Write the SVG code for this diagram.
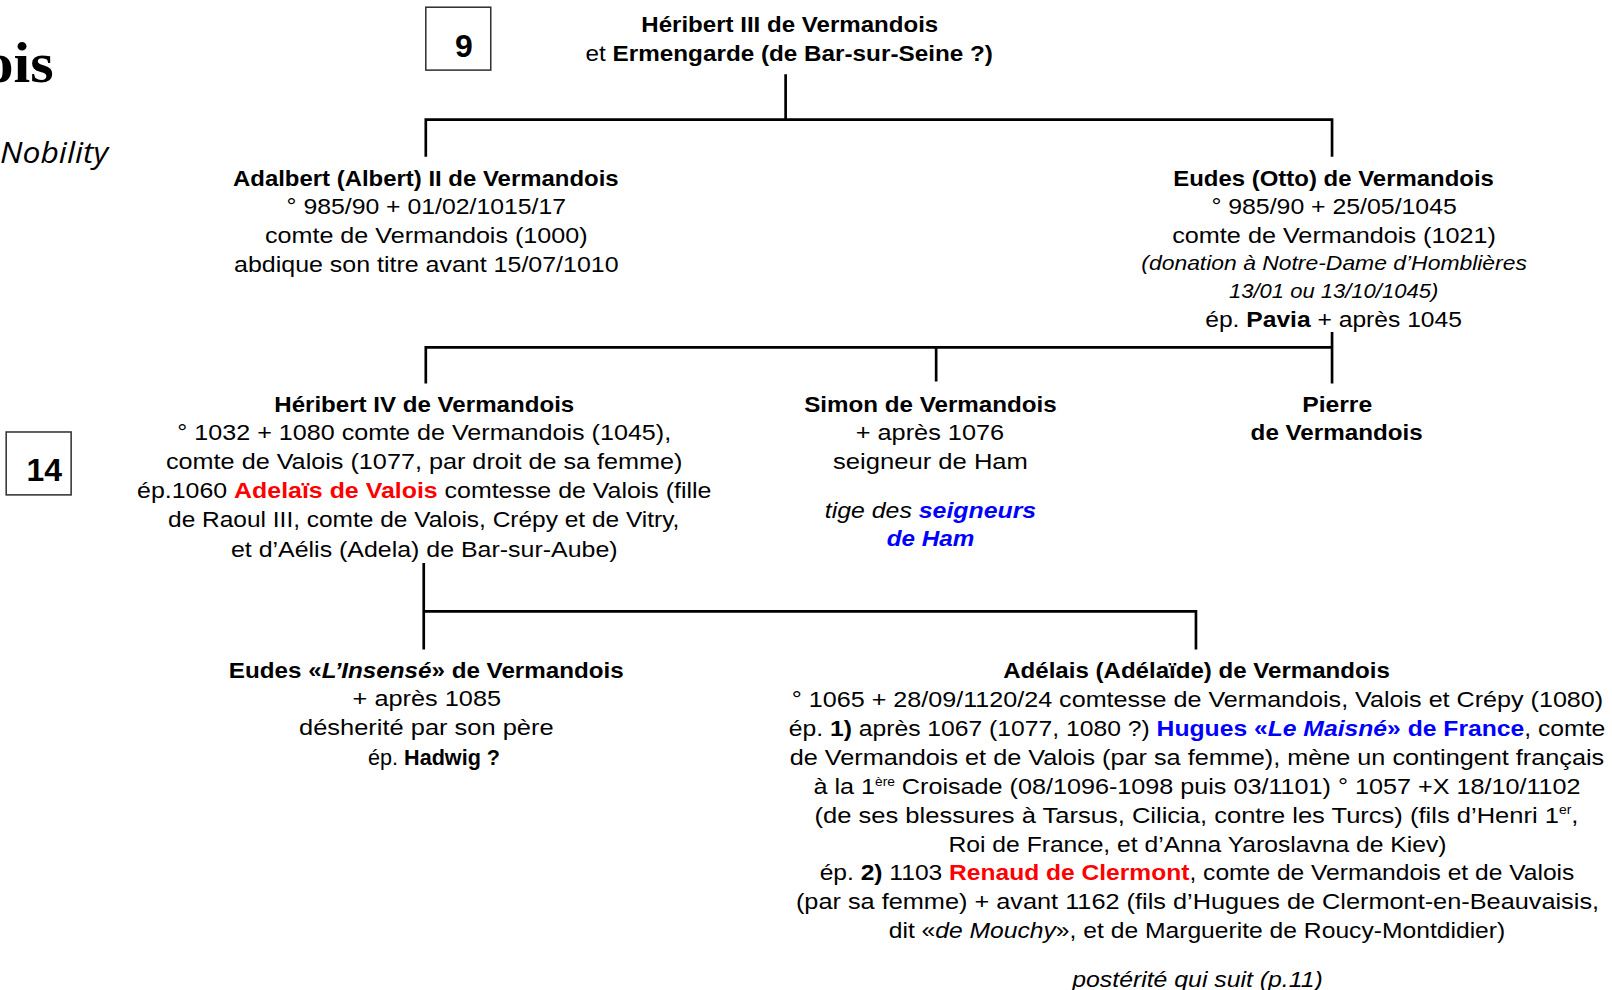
<svg xmlns="http://www.w3.org/2000/svg" width="1612" height="990" viewBox="0 0 1612 990">
<style>
.t{font-family:"Liberation Sans",Arial,sans-serif;font-size:22px;text-anchor:middle;fill:#000}
.s{font-size:19px;font-style:italic}
.b{font-weight:bold}
.i{font-style:italic}
.red{fill:#ff0000;font-weight:bold}
.blue{fill:#0000ff;font-weight:bold}
.sup{font-size:12px}
.num{font-size:31px}
.ln{stroke:#000;stroke-width:2.6;fill:none}
.box{stroke:#333;stroke-width:1.5;fill:#fff}
</style>
<rect width="1612" height="990" fill="#fff"/>
<g transform="scale(1.031)">
<g id="title">
<text x="-16" y="80" font-family="'Liberation Serif',Georgia,serif" font-weight="bold" font-size="56" textLength="68" lengthAdjust="spacingAndGlyphs">ois</text>
<text x="0" y="158" font-family="'Open Sans','Noto Sans',sans-serif" font-style="italic" font-size="28" textLength="105" lengthAdjust="spacingAndGlyphs">Nobility</text>
</g>
<g id="box9"><rect class="box" x="413" y="7" width="63" height="61"/><text class="t b num" x="450" y="55">9</text></g>
<g id="box14"><rect class="box" x="6" y="419" width="63" height="61"/><text class="t b num" x="43" y="467">14</text></g>
<g id="connectors">
<path class="ln" d="M762 72V116M413 152V116H1292V152"/>
<path class="ln" d="M1292 322V372M413 372V337H1292M908 337V370"/>
<path class="ln" d="M411 546V630M411 593H1160V630"/>
</g>
<g id="heribert3">
<text class="t b" x="766" y="31" textLength="288" lengthAdjust="spacingAndGlyphs">Héribert III de Vermandois</text>
<text class="t" x="765.5" y="59" textLength="395" lengthAdjust="spacingAndGlyphs">et <tspan class="b">Ermengarde (de Bar-sur-Seine ?)</tspan></text>
</g>
<g id="adalbert">
<text class="t b" x="413" y="180" textLength="374" lengthAdjust="spacingAndGlyphs">Adalbert (Albert) II de Vermandois</text>
<text class="t" x="413.5" y="208" textLength="271" lengthAdjust="spacingAndGlyphs">° 985/90 + 01/02/1015/17</text>
<text class="t" x="413.5" y="236" textLength="313" lengthAdjust="spacingAndGlyphs">comte de Vermandois (1000)</text>
<text class="t" x="413.5" y="264" textLength="373" lengthAdjust="spacingAndGlyphs">abdique son titre avant 15/07/1010</text>
</g>
<g id="eudes-otto">
<text class="t b" x="1293.5" y="180" textLength="311" lengthAdjust="spacingAndGlyphs">Eudes (Otto) de Vermandois</text>
<text class="t" x="1294" y="208" textLength="238" lengthAdjust="spacingAndGlyphs">° 985/90 + 25/05/1045</text>
<text class="t" x="1294" y="236" textLength="314" lengthAdjust="spacingAndGlyphs">comte de Vermandois (1021)</text>
<text class="t s" x="1294" y="262" textLength="374" lengthAdjust="spacingAndGlyphs">(donation à Notre-Dame d’Homblières</text>
<text class="t s" x="1293.5" y="289" textLength="203" lengthAdjust="spacingAndGlyphs">13/01 ou 13/10/1045)</text>
<text class="t" x="1293.5" y="317" textLength="249" lengthAdjust="spacingAndGlyphs">ép. <tspan class="b">Pavia</tspan> + après 1045</text>
</g>
<g id="heribert4">
<text class="t b" x="411.5" y="400" textLength="291" lengthAdjust="spacingAndGlyphs">Héribert IV de Vermandois</text>
<text class="t" x="411.5" y="427" textLength="479" lengthAdjust="spacingAndGlyphs">° 1032 + 1080 comte de Vermandois (1045),</text>
<text class="t" x="411.5" y="455" textLength="501" lengthAdjust="spacingAndGlyphs">comte de Valois (1077, par droit de sa femme)</text>
<text class="t" x="411.5" y="483" textLength="557" lengthAdjust="spacingAndGlyphs">ép.1060 <tspan class="red">Adelaïs de Valois</tspan> comtesse de Valois (fille</text>
<text class="t" x="411" y="511" textLength="496" lengthAdjust="spacingAndGlyphs">de Raoul III, comte de Valois, Crépy et de Vitry,</text>
<text class="t" x="411.5" y="540" textLength="375" lengthAdjust="spacingAndGlyphs">et d’Aélis (Adela) de Bar-sur-Aube)</text>
</g>
<g id="simon">
<text class="t b" x="902.5" y="400" textLength="245" lengthAdjust="spacingAndGlyphs">Simon de Vermandois</text>
<text class="t" x="902" y="427" textLength="144" lengthAdjust="spacingAndGlyphs">+ après 1076</text>
<text class="t" x="902.5" y="455" textLength="189" lengthAdjust="spacingAndGlyphs">seigneur de Ham</text>
<text class="t i" x="902.5" y="502" textLength="205" lengthAdjust="spacingAndGlyphs">tige des <tspan class="blue">seigneurs</tspan></text>
<text class="t i blue" x="902.5" y="530" textLength="85" lengthAdjust="spacingAndGlyphs">de Ham</text>
</g>
<g id="pierre">
<text class="t b" x="1297" y="400" textLength="68" lengthAdjust="spacingAndGlyphs">Pierre</text>
<text class="t b" x="1296.5" y="427" textLength="167" lengthAdjust="spacingAndGlyphs">de Vermandois</text>
</g>
<g id="eudes-insense">
<text class="t b" x="413.5" y="658" textLength="383" lengthAdjust="spacingAndGlyphs">Eudes «<tspan class="i">L’Insensé</tspan>» de Vermandois</text>
<text class="t" x="414" y="685" textLength="144" lengthAdjust="spacingAndGlyphs">+ après 1085</text>
<text class="t" x="413.5" y="713" textLength="247" lengthAdjust="spacingAndGlyphs">désherité par son père</text>
<text class="t" x="421" y="742" textLength="128" lengthAdjust="spacingAndGlyphs">ép. <tspan class="b">Hadwig ?</tspan></text>
</g>
<g id="adelais">
<text class="t b" x="1160.5" y="658" textLength="375" lengthAdjust="spacingAndGlyphs">Adélais (Adélaïde) de Vermandois</text>
<text class="t" x="1161.5" y="686" textLength="787" lengthAdjust="spacingAndGlyphs">° 1065 + 28/09/1120/24 comtesse de Vermandois, Valois et Crépy (1080)</text>
<text class="t" x="1161" y="714" textLength="792" lengthAdjust="spacingAndGlyphs">ép. <tspan class="b">1)</tspan> après 1067 (1077, 1080 ?) <tspan class="blue">Hugues «<tspan class="i">Le Maisné</tspan>» de France</tspan>, comte</text>
<text class="t" x="1161" y="742" textLength="790" lengthAdjust="spacingAndGlyphs">de Vermandois et de Valois (par sa femme), mène un contingent français</text>
<text class="t" x="1161" y="770" textLength="744" lengthAdjust="spacingAndGlyphs">à la 1<tspan class="sup" dy="-8">ère</tspan><tspan dy="8"> Croisade (08/1096-1098 puis 03/1101) ° 1057 +X 18/10/1102</tspan></text>
<text class="t" x="1160.5" y="798" textLength="741" lengthAdjust="spacingAndGlyphs">(de ses blessures à Tarsus, Cilicia, contre les Turcs) (fils d’Henri 1<tspan class="sup" dy="-8">er</tspan><tspan dy="8">,</tspan></text>
<text class="t" x="1161.5" y="826" textLength="483" lengthAdjust="spacingAndGlyphs">Roi de France, et d’Anna Yaroslavna de Kiev)</text>
<text class="t" x="1161" y="854" textLength="732" lengthAdjust="spacingAndGlyphs">ép. <tspan class="b">2)</tspan> 1103 <tspan class="red">Renaud de Clermont</tspan>, comte de Vermandois et de Valois</text>
<text class="t" x="1161.5" y="882" textLength="779" lengthAdjust="spacingAndGlyphs">(par sa femme) + avant 1162 (fils d’Hugues de Clermont-en-Beauvaisis,</text>
<text class="t" x="1161" y="910" textLength="598" lengthAdjust="spacingAndGlyphs">dit «<tspan class="i">de Mouchy</tspan>», et de Marguerite de Roucy-Montdidier)</text>
<text class="t i" x="1161.5" y="957" textLength="243" lengthAdjust="spacingAndGlyphs">postérité qui suit (p.11)</text>
</g>
</g>
</svg>
